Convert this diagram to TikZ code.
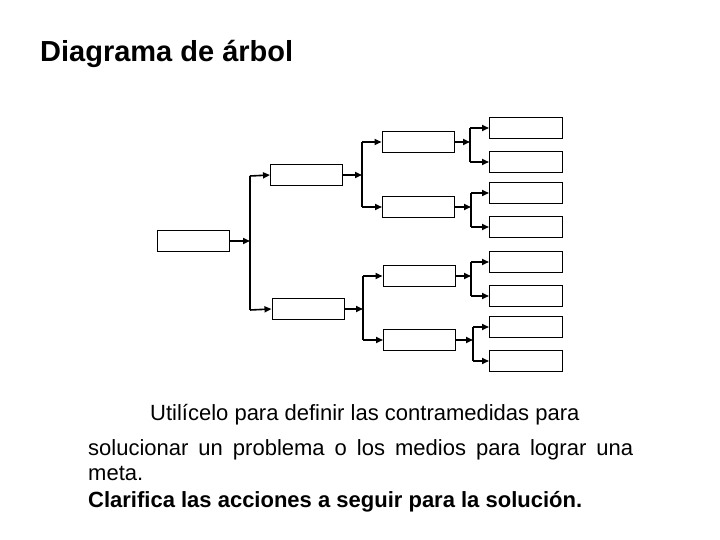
\documentclass[tikz,border=0pt]{standalone}
\usepackage{fontspec}
\setmainfont{Liberation Sans}
\usetikzlibrary{arrows.meta}
\begin{document}
\begin{tikzpicture}[x=1pt,y=-1pt,
  box/.style={draw,line width=1pt,minimum width=72pt,minimum height=21pt,inner sep=0pt},
  con/.style={line width=1.6pt,-{Triangle[length=7pt,width=6pt]}},
  stem/.style={line width=1.3pt},
  txt/.style={anchor=base west,inner sep=0pt,font=\fontsize{22}{24}\selectfont}]
\useasboundingbox (0,0) rectangle (720,540);
\node[anchor=base west,inner sep=0pt,font=\fontsize{29}{32}\selectfont\bfseries] (title) at (40,62) {Diagrama de árbol};
% boxes
\node[box] (r) at (193.5,241) {};
\node[box] (a) at (306.5,175) {};
\node[box] (b) at (308,309) {};
\node[box] (a1) at (418,142) {};
\node[box] (a2) at (418.5,207) {};
\node[box] (b1) at (419,276) {};
\node[box] (b2) at (419.5,340) {};
\foreach \n/\y in {1/128,2/162,3/193,4/227,5/262,6/296,7/327,8/361}{
  \node[box,minimum width=73pt] (l\n) at (526,\y) {};
}
% root
\coordinate (rv) at (250,241);
\draw[con] (r.east) -- (rv);
\draw[stem] (250,176) -- (250,310);
\draw[con] (250,176) -- (a.west);
\draw[con] (250,310) -- (b.west);
% level 1
\draw[con] (a.east) -- (362,175);
\draw[stem] (362,142) -- (362,207);
\draw[con] (362,142) -- (a1.west);
\draw[con] (362,207) -- (a2.west);
\draw[con] (b.east) -- (363,309);
\draw[stem] (363,276) -- (363,340);
\draw[con] (363,276) -- (b1.west);
\draw[con] (363,340) -- (b2.west);
% level 2
\foreach \p/\x/\ya/\yb/\u/\v in {a1/470/128/162/l1/l2, a2/471/193/227/l3/l4, b1/471/262/296/l5/l6, b2/473/327/361/l7/l8}{
  \draw[con] (\p.east) -- (\p.east -| \x,0);
  \draw[stem] (\x,\ya) -- (\x,\yb);
  \draw[con] (\x,\ya) -- (\u.west);
  \draw[con] (\x,\yb) -- (\v.west);
}
% text
\node[txt] (t1) at (150,420) {Utilícelo para definir las contramedidas para};
\node[txt] (t2) at (88,455) {\hbox to 545pt{solucionar\hfil un\hfil problema\hfil o\hfil los\hfil medios\hfil para\hfil lograr\hfil una}};
\node[txt] (t3) at (88,480) {meta.};
\node[txt,font=\fontsize{22}{24}\selectfont\bfseries] (t4) at (88,507) {Clarifica las acciones a seguir para la solución.};
\end{tikzpicture}
\end{document}
